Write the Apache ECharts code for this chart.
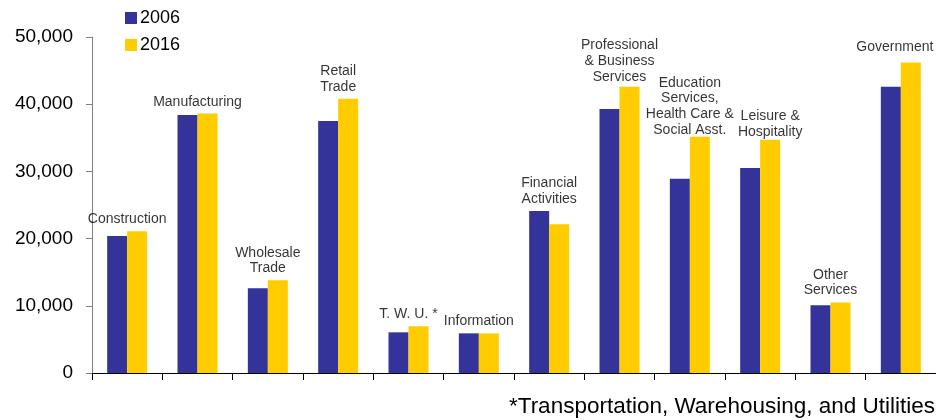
<!DOCTYPE html>
<html>
<head>
<meta charset="utf-8">
<script src="https://cdn.jsdelivr.net/npm/echarts@6/dist/echarts.min.js"></script>
<style>
html,body{margin:0;padding:0;background:#fff;}
#chart{width:936px;height:420px;}
</style>
</head>
<body>
<div id="chart"></div>
<script>
const categories = ['Construction','Manufacturing','Wholesale\nTrade','Retail\nTrade','T. W. U. *','Information','Financial\nActivities','Professional\n& Business\nServices','Education\nServices,\nHealth Care &\nSocial Asst.','Leisure &\nHospitality','Other\nServices','Government'];
const values2006 = [20400, 38400, 12600, 37500, 6050, 5900, 24100, 39300, 28900, 30500, 10100, 42600];
const values2016 = [21100, 38600, 13800, 40800, 6950, 5900, 22150, 42600, 35150, 34700, 10500, 46200];
const seriesNames = ['2006', '2016'];
const yTicks = { min: 0, max: 50000, interval: 10000 };
const footnote = '*Transportation, Warehousing, and Utilities';

const font = '"Liberation Sans", Arial, sans-serif';
const labelTops = categories.map((c, i) => Math.max(values2006[i], values2016[i]));
// small label nudges (layout only) keyed by category index
const labelNudge = { 7: [0, 2], 8: [0, 5], 9: [10, 4], 11: [-6, -4] };

const chart = echarts.init(document.getElementById('chart'));
chart.setOption({
  animation: false,
  backgroundColor: '#fff',
  textStyle: { fontFamily: font },
  legend: {
    data: seriesNames,
    orient: 'vertical',
    left: 120,
    top: 4,
    itemWidth: 12,
    itemHeight: 12,
    itemGap: 9,
    icon: 'rect',
    textStyle: { fontSize: 18, color: '#000', fontFamily: font, padding: [0, 0, 0, -2] }
  },
  grid: { left: 92, top: 37, width: 845, height: 336, containLabel: false },
  xAxis: {
    type: 'category',
    data: categories,
    axisLine: { lineStyle: { color: '#000', width: 1.2 } },
    axisTick: { show: true, interval: 0, length: 7, alignWithLabel: false, lineStyle: { color: '#000' } },
    axisLabel: { show: false, interval: 0 },
    splitLine: { show: false }
  },
  yAxis: {
    type: 'value',
    min: yTicks.min,
    max: yTicks.max,
    interval: yTicks.interval,
    axisLine: { show: true, lineStyle: { color: '#808080', width: 1 } },
    axisTick: { show: true, length: 6, lineStyle: { color: '#808080' } },
    axisLabel: {
      fontSize: 19, color: '#000', fontFamily: font, margin: 19,
      formatter: v => v.toLocaleString('en-US')
    },
    splitLine: { show: false }
  },
  series: [
    {
      name: seriesNames[0], type: 'bar', data: values2006,
      barWidth: 20, barGap: '0%',
      itemStyle: { color: '#333399' }
    },
    {
      name: seriesNames[1], type: 'bar', data: values2016,
      barWidth: 20, barGap: '0%',
      itemStyle: { color: '#FFCC00' }
    },
    {
      name: 'labels', type: 'scatter', silent: true, z: 10,
      symbolSize: 0,
      itemStyle: { color: 'rgba(0,0,0,0)' },
      data: labelTops,
      label: {
        show: true, position: 'top', distance: 4,
        fontSize: 14, lineHeight: 15.7, color: '#000', fontFamily: font, align: 'center',
        formatter: p => categories[p.dataIndex]
      },
      labelLayout: p => {
        const n = labelNudge[p.dataIndex];
        return n ? { dx: n[0], dy: n[1], hideOverlap: false } : { hideOverlap: false };
      }
    }
  ],
  graphic: [
    {
      type: 'text', right: 1, top: 395,
      style: { text: footnote, fontSize: 22.5, fill: '#000', fontFamily: font }
    }
  ]
});
</script>
</body>
</html>
